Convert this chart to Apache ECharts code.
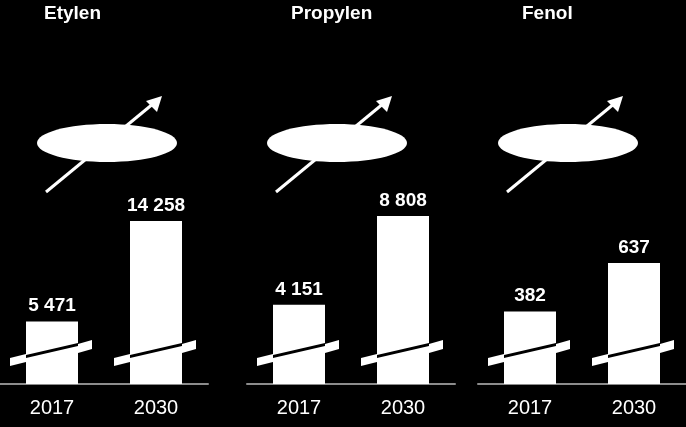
<!DOCTYPE html>
<html><head><meta charset="utf-8">
<script src="https://cdn.jsdelivr.net/npm/echarts@6/dist/echarts.min.js"></script>
<style>html,body{margin:0;background:#000}#c{width:686px;height:427px}</style>
</head><body><div id="c"></div>
<script>
const titles = ['Etylen','Propylen','Fenol'];
const years = ['2017','2030'];
const etylen = [5471, 14258];
const propylen = [4151, 8808];
const fenol = [382, 637];
const maxes = [30090, 18035, 1811];
const lefts = [0, 247, 478];
const all = [etylen, propylen, fenol];
const fmt = v => String(v).replace(/\B(?=(\d{3})+(?!\d))/g, ' ');

const grid = [], xAxis = [], yAxis = [], series = [], graphic = [];
all.forEach((vals, i) => {
  grid.push({left: lefts[i], width: 208, top: 40, bottom: 43});
  xAxis.push({type:'category', gridIndex:i, data: years,
    axisLine:{lineStyle:{color:'#8c8c8c', width:2}}, axisTick:{show:false},
    axisLabel:{color:'#fff', fontSize:20, fontFamily:'Liberation Sans', margin:14}});
  yAxis.push({type:'value', gridIndex:i, min:0, max:maxes[i], show:false, splitLine:{show:false}});
  series.push({type:'bar', xAxisIndex:i, yAxisIndex:i, data: vals, barWidth:'50%',
    itemStyle:{color:'#fff'},
    label:{show:true, position:'top', distance:6, color:'#fff', fontSize:19, fontWeight:'bold',
      fontFamily:'Liberation Sans', formatter: p => fmt(p.value)}});
  series.push({type:'custom', xAxisIndex:i, yAxisIndex:i, data: vals.map((v,k)=>[k,v]), z:5,
    renderItem: (params, api) => {
      const p = api.coord([api.value(0), 0]);
      const cx = p[0], y = p[1] - 32;
      const hw = 26;
      return {type:'group', children:[
        {type:'polygon', shape:{points:[[cx-hw-16,y+6],[cx-hw,y+2],[cx-hw,y+10],[cx-hw-16,y+14]]}, style:{fill:'#fff'}},
        {type:'polygon', shape:{points:[[cx-hw,y+3],[cx+hw,y-9],[cx+hw,y-6],[cx-hw,y+6]]}, style:{fill:'#000'}},
        {type:'polygon', shape:{points:[[cx+hw,y-8],[cx+hw+14,y-12],[cx+hw+14,y-3],[cx+hw,y+1]]}, style:{fill:'#fff'}}
      ]};
    }});
  const dx = i * 230 + (i===2 ? 1 : 0);
  graphic.push({type:'text', left: lefts[i] + 104 - 60, top: 4, style:{text: titles[i], fill:'#fff',
    font:'bold 19px "Liberation Sans"', width:120, align:'center'}});
  graphic.push({type:'line', shape:{x1:46+dx, y1:192, x2:154+dx, y2:103}, style:{stroke:'#fff', lineWidth:3}});
  graphic.push({type:'polygon', shape:{points:[[162+dx,96],[146+dx,101],[157+dx,112]]}, style:{fill:'#fff'}});
  graphic.push({type:'ellipse', shape:{cx:107+dx, cy:143, rx:70, ry:19}, style:{fill:'#fff'}});
});
const chart = echarts.init(document.getElementById('c'));
chart.setOption({backgroundColor:'#000', animation:false, grid, xAxis, yAxis, series, graphic});
</script></body></html>
